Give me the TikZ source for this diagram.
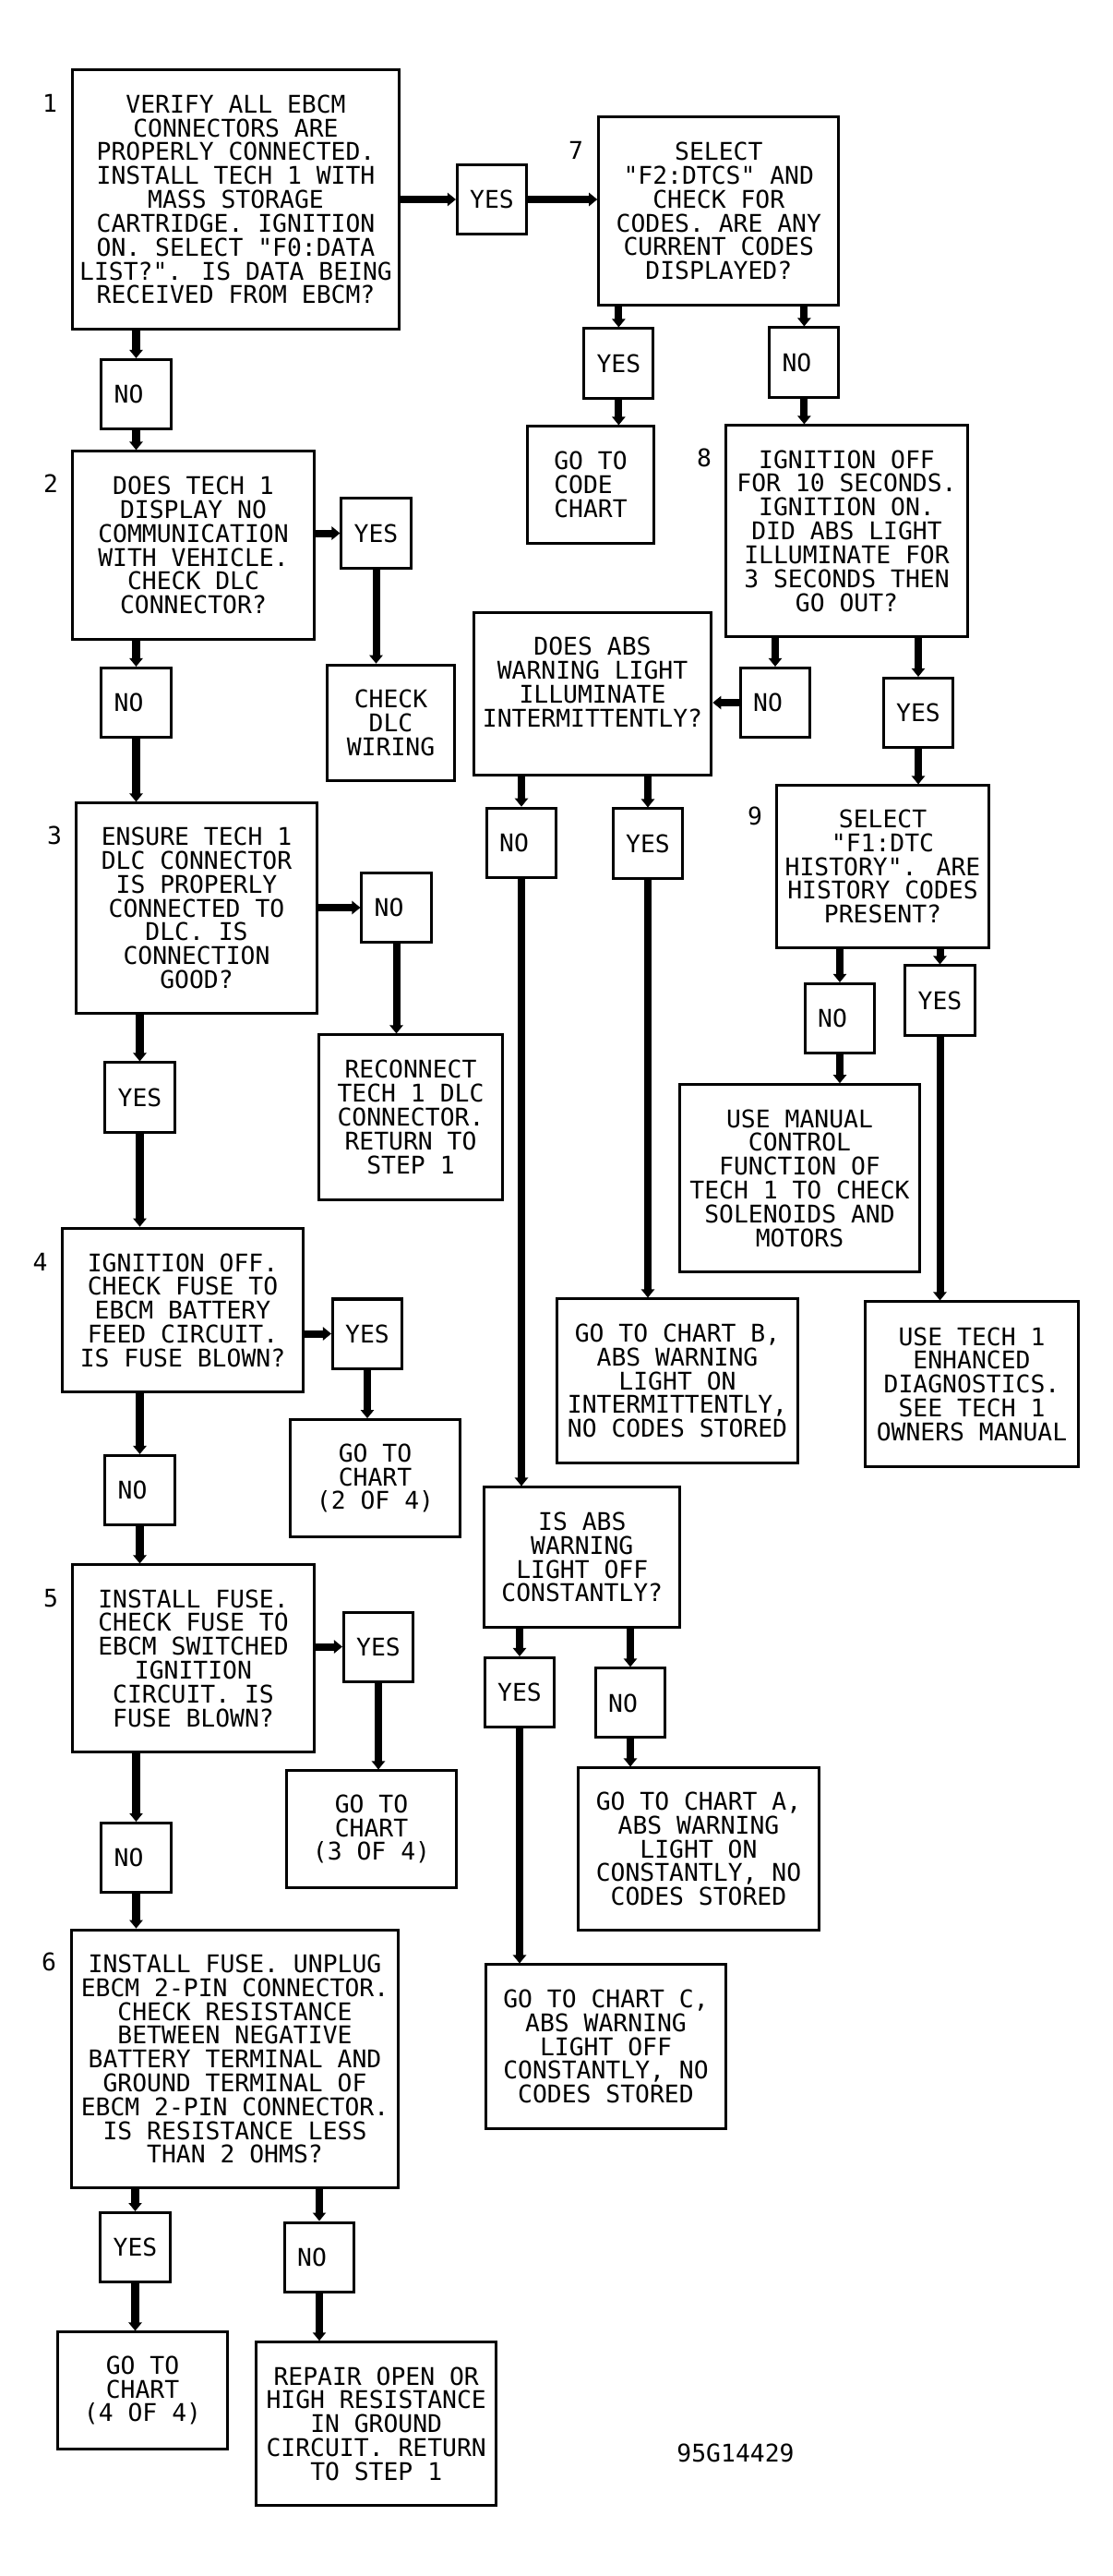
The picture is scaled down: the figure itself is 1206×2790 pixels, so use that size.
\documentclass[tikz,border=0pt]{standalone}
\usepackage{fontspec}
\usetikzlibrary{arrows.meta}
\newfontfamily\chartfont{DejaVu Sans Mono}
\newcommand{\chartface}{\chartfont\fontsize{7.5}{7.34}\selectfont}

\begin{document}
\begin{tikzpicture}[x = 0.01cm, y = -0.01cm]

\tikzset{
stepbox/.style = {rectangle, draw, line width = 0.03cm, align = center, inner sep = 0pt, font = \chartface},
answer/.style = {rectangle, draw, line width = 0.03cm, minimum width = 0.75cm, minimum height = 0.75cm, inner sep = 0pt, font = \chartface},
stepnum/.style = {inner sep = 0pt, font = \chartface},
flow/.style = {-{Triangle[length = 0.09cm, width = 0.14cm]}, line width = 0.08cm},
	}

\useasboundingbox (0, 0) rectangle (1206, 2790);

% Left column
\node at (255.5, 216) [stepbox, minimum width = 3.53cm, minimum height = 2.80cm] (b1) {VERIFY ALL EBCM\\CONNECTORS ARE\\PROPERLY CONNECTED.\\INSTALL TECH 1 WITH\\MASS STORAGE\\CARTRIDGE. IGNITION\\ON. SELECT "F0:DATA\\LIST?". IS DATA BEING\\RECEIVED FROM EBCM?};
\node at (147.5, 427) [answer] (n1) {NO\hphantom{N}};
\node at (209.5, 590.5) [stepbox, minimum width = 2.61cm, minimum height = 2.03cm] (b2) {DOES TECH 1\\DISPLAY NO\\COMMUNICATION\\WITH VEHICLE.\\CHECK DLC\\CONNECTOR?};
\node at (407.5, 577.5) [answer] (y2) {YES};
\node at (423.5, 783) [stepbox, minimum width = 1.37cm, minimum height = 1.255cm] (wiring) {CHECK\\DLC\\WIRING};
\node at (147.5, 761) [answer] (n2) {NO\hphantom{N}};
\node at (213, 983.5) [stepbox, minimum width = 2.60cm, minimum height = 2.27cm] (b3) {ENSURE TECH 1\\DLC CONNECTOR\\IS PROPERLY\\CONNECTED TO\\DLC. IS\\CONNECTION\\GOOD?};
\node at (429.5, 983) [answer] (n3) {NO\hphantom{N}};
\node at (445, 1210) [stepbox, minimum width = 1.98cm, minimum height = 1.78cm] (reconnect) {RECONNECT\\TECH 1 DLC\\CONNECTOR.\\RETURN TO\\STEP 1};
\node at (151.5, 1188.5) [answer] (y3) {YES};
\node at (198, 1419) [stepbox, minimum width = 2.605cm, minimum height = 1.776cm] (b4) {IGNITION OFF.\\CHECK FUSE TO\\EBCM BATTERY\\FEED CIRCUIT.\\IS FUSE BLOWN?};
\node at (398, 1444.5) [answer] (y4) {YES};
\node at (406.5, 1601) [stepbox, minimum width = 1.83cm, minimum height = 1.267cm] (chart2) {GO TO\\CHART\\(2 OF 4)};
\node at (151.5, 1614) [answer] (n4) {NO\hphantom{N}};
\node at (209.5, 1796) [stepbox, minimum width = 2.61cm, minimum height = 2.02cm] (b5) {INSTALL FUSE.\\CHECK FUSE TO\\EBCM SWITCHED\\IGNITION\\CIRCUIT. IS\\FUSE BLOWN?};
\node at (410, 1783.5) [answer] (y5) {YES};
\node at (402.5, 1981) [stepbox, minimum width = 1.83cm, minimum height = 1.26cm] (chart3) {GO TO\\CHART\\(3 OF 4)};
\node at (147.5, 2012) [answer] (n5) {NO\hphantom{N}};
\node at (254.5, 2230) [stepbox, minimum width = 3.53cm, minimum height = 2.795cm] (b6) {INSTALL FUSE. UNPLUG\\EBCM 2-PIN CONNECTOR.\\CHECK RESISTANCE\\BETWEEN NEGATIVE\\BATTERY TERMINAL AND\\GROUND TERMINAL OF\\EBCM 2-PIN CONNECTOR.\\IS RESISTANCE LESS\\THAN 2 OHMS?};
\node at (146.5, 2434) [answer] (y6) {YES};
\node at (154.5, 2589) [stepbox, minimum width = 1.83cm, minimum height = 1.26cm] (chart4) {GO TO\\CHART\\(4 OF 4)};
\node at (346, 2444.5) [answer] (n6) {NO\hphantom{N}};
\node at (407.7, 2625) [stepbox, minimum width = 2.60cm, minimum height = 1.764cm] (repair) {REPAIR OPEN OR\\HIGH RESISTANCE\\IN GROUND\\CIRCUIT. RETURN\\TO STEP 1};

% Right columns
\node at (533, 216) [answer] (y1) {YES};
\node at (778.8, 228.5) [stepbox, minimum width = 2.60cm, minimum height = 2.03cm] (b7) {SELECT\\"F2:DTCS" AND\\CHECK FOR\\CODES. ARE ANY\\CURRENT CODES\\DISPLAYED?};
\node at (670.4, 393.5) [answer] (y7) {YES};
\node at (640, 525) [stepbox, align = left, minimum width = 1.36cm, minimum height = 1.26cm] (codechart) {GO TO\\CODE\\CHART};
\node at (871.4, 392.5) [answer] (n7) {NO\hphantom{N}};
\node at (917.5, 575) [stepbox, minimum width = 2.61cm, minimum height = 2.28cm] (b8) {IGNITION OFF\\FOR 10 SECONDS.\\IGNITION ON.\\DID ABS LIGHT\\ILLUMINATE FOR\\3 SECONDS THEN\\GO OUT?};
\node at (840, 761) [answer] (n8) {NO\hphantom{N}};
\node at (642, 751.5) [stepbox, minimum width = 2.575cm, minimum height = 1.76cm] (intermit) {DOES ABS\\WARNING LIGHT\\ILLUMINATE\\INTERMITTENTLY?\\\mbox{}};
\node at (995, 772) [answer] (y8) {YES};
\node at (956.5, 938.5) [stepbox, minimum width = 2.29cm, minimum height = 1.75cm] (b9) {SELECT\\"F1:DTC\\HISTORY". ARE\\HISTORY CODES\\PRESENT?};
\node at (910, 1103) [answer] (n9) {NO\hphantom{N}};
\node at (866.5, 1276) [stepbox, minimum width = 2.60cm, minimum height = 2.025cm] (manual) {USE MANUAL\\CONTROL\\FUNCTION OF\\TECH 1 TO CHECK\\SOLENOIDS AND\\MOTORS};
\node at (1018.5, 1083.5) [answer] (y9) {YES};
\node at (1053, 1499) [stepbox, minimum width = 2.30cm, minimum height = 1.78cm] (enhanced) {USE TECH 1\\ENHANCED\\DIAGNOSTICS.\\SEE TECH 1\\OWNERS MANUAL};
\node at (565, 912.7) [answer] (ni) {NO\hphantom{N}};
\node at (702, 913.5) [answer] (yi) {YES};
\node at (734, 1495.5) [stepbox, minimum width = 2.60cm, minimum height = 1.77cm] (chartB) {GO TO CHART B,\\ABS WARNING\\LIGHT ON\\INTERMITTENTLY,\\NO CODES STORED};
\node at (630.8, 1686.5) [stepbox, minimum width = 2.12cm, minimum height = 1.51cm] (lightoff) {IS ABS\\WARNING\\LIGHT OFF\\CONSTANTLY?};
\node at (563, 1833) [answer] (yo) {YES};
\node at (656.5, 2216.5) [stepbox, minimum width = 2.59cm, minimum height = 1.77cm] (chartC) {GO TO CHART C,\\ABS WARNING\\LIGHT OFF\\CONSTANTLY, NO\\CODES STORED};
\node at (683, 1844.4) [answer] (no) {NO\hphantom{N}};
\node at (757, 2002.5) [stepbox, minimum width = 2.60cm, minimum height = 1.75cm] (chartA) {GO TO CHART A,\\ABS WARNING\\LIGHT ON\\CONSTANTLY, NO\\CODES STORED};

% Step numbers
\node at (54, 112) [stepnum] (s1) {1};
\node at (55, 524) [stepnum] (s2) {2};
\node at (59, 905) [stepnum] (s3) {3};
\node at (43.5, 1367) [stepnum] (s4) {4};
\node at (55, 1731) [stepnum] (s5) {5};
\node at (53, 2125) [stepnum] (s6) {6};
\node at (624, 163) [stepnum] (s7) {7};
\node at (763, 496) [stepnum] (s8) {8};
\node at (818, 883.5) [stepnum] (s9) {9};
\node at (797, 2657) [stepnum] (ref) {95G14429};

% Flow, left column
\path [flow] (b1.south -| n1) edge (n1.north);
\path [flow] (n1.south) edge (n1.south |- b2.north);
\path [flow] (b2.east |- y2) edge (y2.west);
\path [flow] (y2.south) edge (y2.south |- wiring.north);
\path [flow] (b2.south -| n2) edge (n2.north);
\path [flow] (n2.south) edge (n2.south |- b3.north);
\path [flow] (b3.east |- n3) edge (n3.west);
\path [flow] (n3.south) edge (n3.south |- reconnect.north);
\path [flow] (b3.south -| y3) edge (y3.north);
\path [flow] (y3.south) edge (y3.south |- b4.north);
\path [flow] (b4.east |- y4) edge (y4.west);
\path [flow] (y4.south) edge (y4.south |- chart2.north);
\path [flow] (b4.south -| n4) edge (n4.north);
\path [flow] (n4.south) edge (n4.south |- b5.north);
\path [flow] (b5.east |- y5) edge (y5.west);
\path [flow] (y5.south) edge (y5.south |- chart3.north);
\path [flow] (b5.south -| n5) edge (n5.north);
\path [flow] (n5.south) edge (n5.south |- b6.north);
\path [flow] (b6.south -| y6) edge (y6.north);
\path [flow] (y6.south) edge (y6.south |- chart4.north);
\path [flow] (b6.south -| n6) edge (n6.north);
\path [flow] (n6.south) edge (n6.south |- repair.north);

% Flow, right columns
\path [flow] (b1.east |- y1) edge (y1.west);
\path [flow] (y1.east) edge (y1.east -| b7.west);
\path [flow] (b7.south -| y7) edge (y7.north);
\path [flow] (y7.south) edge (y7.south |- codechart.north);
\path [flow] (b7.south -| n7) edge (n7.north);
\path [flow] (n7.south) edge (n7.south |- b8.north);
\path [flow] (b8.south -| n8) edge (n8.north);
\path [flow] (n8.west) edge (n8.west -| intermit.east);
\path [flow] (b8.south -| y8) edge (y8.north);
\path [flow] (y8.south) edge (y8.south |- b9.north);
\path [flow] (b9.south -| n9) edge (n9.north);
\path [flow] (n9.south) edge (n9.south |- manual.north);
\path [flow] (b9.south -| y9) edge (y9.north);
\path [flow] (y9.south) edge (y9.south |- enhanced.north);
\path [flow] (intermit.south -| ni) edge (ni.north);
\path [flow] (ni.south) edge (ni.south |- lightoff.north);
\path [flow] (intermit.south -| yi) edge (yi.north);
\path [flow] (yi.south) edge (yi.south |- chartB.north);
\path [flow] (lightoff.south -| yo) edge (yo.north);
\path [flow] (yo.south) edge (yo.south |- chartC.north);
\path [flow] (lightoff.south -| no) edge (no.north);
\path [flow] (no.south) edge (no.south |- chartA.north);

\end{tikzpicture}
\end{document}
